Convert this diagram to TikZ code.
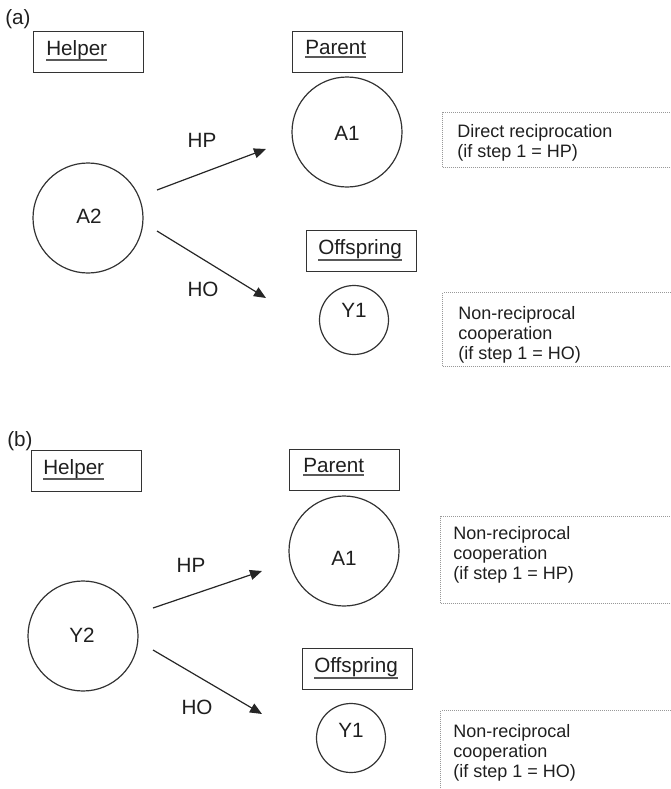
\documentclass[tikz,border=0pt]{standalone}
\usepackage{fontspec}
\setmainfont{Liberation Sans}
\usetikzlibrary{arrows.meta,calc}
\begin{document}
\begin{tikzpicture}[x=0.75pt,y=-0.75pt,
  big/.style={font=\fontsize{15.5}{18}\selectfont, text=black!88, inner sep=0},
  small/.style={font=\fontsize{13.5}{15}\selectfont, text=black!88, inner sep=0, align=left, anchor=north west},
  namebox/.style={draw=black!80, line width=0.9pt, minimum width=82.5pt, minimum height=30.75pt, inner sep=0, anchor=north west},
  bigcirc/.style={circle, draw=black!80, line width=0.9pt, minimum size=82.5pt, inner sep=0},
  smallcirc/.style={circle, draw=black!80, line width=0.9pt, minimum size=51.75pt, inner sep=0},
  dotbox/.style={draw=black!40, line width=0.75pt, dash pattern=on 0.75pt off 0.75pt, minimum width=193.5pt, inner sep=0, anchor=north west},
  uline/.style={draw=black!65, line width=1pt},
  arr/.style={draw=black!85, line width=0.9pt, -{Triangle[length=9pt,width=7.5pt]}}
]
\useasboundingbox (0,0) rectangle (671,789);
\clip (0,0) rectangle (671,789);

% ---------- (a) ----------
\node[big, anchor=base west] (la) at (5,24) {(a)};

\node[namebox] (hbA) at (33,31) {};
\node[big, anchor=base west] (htA) at (46,55) {Helper};
\draw[uline] ($(htA.base west)+(0,5)$) -- ($(htA.base east)+(0,5)$);

\node[namebox] (pbA) at (292,31) {};
\node[big, anchor=base west] (ptA) at (305,54) {Parent};
\draw[uline] ($(ptA.base west)+(0,3)$) -- ($(ptA.base east)+(0,3)$);

\node[namebox] (obA) at (306,230) {};
\node[big, anchor=base west] (otA) at (318,254) {Offspring};
\draw[uline] ($(otA.base west)+(0,6)$) -- ($(otA.base east)+(0,6)$);

\node[bigcirc] (A2) at (88,218) {};
\node[big] (A2t) at (89,216) {A2};
\node[bigcirc] (A1a) at (347,132) {};
\node[big] (A1at) at (347,133) {A1};
\node[smallcirc] (Y1a) at (354,320) {};
\node[big] (Y1at) at (354,310) {Y1};

\coordinate (a1s) at (157,190);
\coordinate (a1e) at (266,149);
\coordinate (a2s) at (157,231);
\coordinate (a2e) at (266,298);
\draw[arr] (a1s) -- (a1e);
\draw[arr] (a2s) -- (a2e);
\node[big] (HPa) at (202,140) {HP};
\node[big] (HOa) at (203,289) {HO};

\node[dotbox, minimum height=41.25pt] (dA1) at (442,112) {};
\node[small] (tA1) at (457,124) {Direct reciprocation\\(if step 1 = HP)};
\node[dotbox, minimum height=55.5pt] (dA2) at (442,292) {};
\node[small] (tA2) at (458,306) {Non-reciprocal\\cooperation\\(if step 1 = HO)};

% ---------- (b) ----------
\node[big, anchor=base west] (lb) at (7,446) {(b)};

\node[namebox] (hbB) at (31,450) {};
\node[big, anchor=base west] (htB) at (43,474) {Helper};
\draw[uline] ($(htB.base west)+(0,5)$) -- ($(htB.base east)+(0,5)$);

\node[namebox] (pbB) at (289,449) {};
\node[big, anchor=base west] (ptB) at (303,472) {Parent};
\draw[uline] ($(ptB.base west)+(0,3)$) -- ($(ptB.base east)+(0,3)$);

\node[namebox] (obB) at (302,648) {};
\node[big, anchor=base west] (otB) at (314,672) {Offspring};
\draw[uline] ($(otB.base west)+(0,6)$) -- ($(otB.base east)+(0,6)$);

\node[bigcirc] (Y2) at (83,636) {};
\node[big] (Y2t) at (82,635) {Y2};
\node[bigcirc] (A1b) at (344,551) {};
\node[big] (A1bt) at (344,558) {A1};
\node[smallcirc] (Y1b) at (351,738) {};
\node[big] (Y1bt) at (351,730) {Y1};

\coordinate (b1s) at (153,608);
\coordinate (b1e) at (262,571);
\coordinate (b2s) at (153,650);
\coordinate (b2e) at (262,714);
\draw[arr] (b1s) -- (b1e);
\draw[arr] (b2s) -- (b2e);
\node[big] (HPb) at (191,565) {HP};
\node[big] (HOb) at (197,707) {HO};

\node[dotbox, minimum height=65.25pt] (dB1) at (440,516) {};
\node[small] (tB1) at (453,526) {Non-reciprocal\\cooperation\\(if step 1 = HP)};
\node[dotbox, minimum height=75pt] (dB2) at (440,710) {};
\node[small] (tB2) at (453,724) {Non-reciprocal\\cooperation\\(if step 1 = HO)};
\end{tikzpicture}
\end{document}
